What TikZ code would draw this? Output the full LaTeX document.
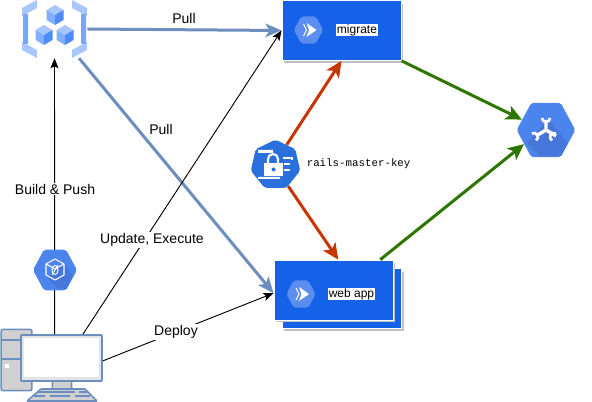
\documentclass[tikz,border=0pt]{standalone}
\usepackage{fontspec}
\setmainfont{Liberation Sans}
\setmonofont{Liberation Mono}
\usetikzlibrary{arrows.meta, shapes.geometric}
\definecolor{pullblue}{HTML}{6C8EBF}
\definecolor{keyred}{HTML}{C73500}
\definecolor{linkgreen}{HTML}{2D7600}
\definecolor{runblue}{HTML}{1561E8}
\definecolor{runhex}{HTML}{5C8DF0}
\definecolor{gcpblue}{HTML}{4C84EE}
\definecolor{gcpdark}{HTML}{4676DA}
\definecolor{keyblue}{HTML}{2A70DD}
\definecolor{cubetop}{HTML}{A8C7FF}
\definecolor{cubeleft}{HTML}{82AEFF}
\definecolor{cuberight}{HTML}{4D8BF8}
\definecolor{cubebar}{HTML}{76A7FA}
\definecolor{pcgray}{HTML}{D0D0D0}
\definecolor{pcscreen}{HTML}{E4E4E4}
\definecolor{boxshadow}{HTML}{C0C0C0}
\tikzset{
  label/.style={font=\fontsize{10.5}{12}\selectfont, text=black, inner sep=1pt},
  whitelabel/.style={label, fill=white},
  boxlabel/.style={font=\fontsize{9}{11}\selectfont, text=black, fill=white, inner sep=0.5pt},
  runbox/.style={fill=runblue, draw=white, line width=0.5pt, minimum width=89.5pt, minimum height=45pt, inner sep=0pt},
  pullline/.style={draw=pullblue, line width=2.25pt, -{Stealth[length=12pt, width=10pt, inset=3pt]}},
  thinline/.style={draw=black, line width=0.7pt, -{Stealth[length=7.5pt, width=6pt, inset=1.5pt]}},
  keyline/.style={draw=keyred, line width=2.25pt, -{Stealth[length=12pt, width=11pt, inset=3pt]}},
  greenline/.style={draw=linkgreen, line width=2.25pt, -{Stealth[length=12pt, width=11pt, inset=3pt]}},
  hexicon/.style={regular polygon, regular polygon sides=6, inner sep=0pt, rounded corners=1.5pt, transform shape, yscale=1.07},
  pcpart/.style={draw=pullblue, line width=1.2pt, fill=pcgray, rounded corners=0.5pt, inner sep=0pt}
}
\begin{document}
\begin{tikzpicture}[x=0.75pt, y=-0.75pt]
  \useasboundingbox (0,0) rectangle (592,402);
  % Registry
  \node[minimum width=48.75pt, minimum height=43.5pt, inner sep=0pt] (registry) at (54.5,29) {};
  \fill[cubetop] (22,8) -- (37,0) -- (37,8) -- (22,16) -- cycle (22,42) -- (37,50) -- (37,58) -- (22,50) -- cycle;
  \fill[cubetop] (87,8) -- (72,0) -- (72,8) -- (87,16) -- cycle (87,42) -- (72,50) -- (72,58) -- (87,50) -- cycle;
  \fill[cubebar] (23,14) rectangle (28,44) (81,14) rectangle (86,44);
  \foreach \cx/\cy in {55/15, 44/35, 65/35} {
    \fill[cubetop] (\cx,\cy) -- ++(-8.5,-5) -- ++(8.5,-5) -- ++(8.5,5) -- cycle;
    \fill[cubeleft] (\cx,\cy) -- ++(-8.5,-5) -- ++(0,10) -- ++(8.5,5) -- cycle;
    \fill[cuberight] (\cx,\cy) -- ++(8.5,-5) -- ++(0,10) -- ++(-8.5,5) -- cycle;
  }
  % Computer
  \node[pcpart, minimum width=23pt, minimum height=46pt, rounded corners=1.5pt] (tower) at (16.5,360) {};
  \draw[pullblue, line width=1.2pt] (1,340) -- (21,340) (1,359) -- (21,359);
  \fill[white] (5,364) rectangle (8.5,367.5);
  \node[pcpart, minimum width=14.5pt, minimum height=7pt] (stand) at (62,385) {};
  \node[pcpart, minimum width=60.75pt, minimum height=34.5pt, fill=pcscreen] (monitor) at (61.5,358) {};
  \node[fill=white, minimum width=56.25pt, minimum height=29.25pt, inner sep=0pt] (screen) at (61.5,357.5) {};
  \draw[pcpart] (27,401) -- (41,389) -- (85,389) -- (97,401) -- cycle;
  \draw[pullblue, line width=1pt] (38,392) -- (75,392) (79,392) -- (87,392) (34,396) -- (45,396) (50,396) -- (70,396) (75,396) -- (90,396);
  % Boxes
  \fill[boxshadow] (284,4) rectangle (403,63);
  \node[runbox] (migrate) at (341.5,30.5) {};
  \fill[boxshadow] (284,272) rectangle (403.5,331);
  \node[runbox] (webback) at (342,298.5) {};
  \fill[boxshadow] (276,263) rectangle (395,322);
  \node[runbox] (web) at (333.5,290) {};
  % Pull, Build, Update, Deploy
  \draw[pullline] (registry.east) -- (migrate.west);
  \draw[pullline] (registry.-50) -- (web.183);
  \draw[thinline] (monitor.106) -- (registry.south);
  \draw[thinline] (monitor.48) -- (migrate.west);
  \draw[thinline] (monitor.-4) -- (web.183);
  % Service icons
  \node[hexicon, fill=runhex, minimum size=22pt] (migrateicon) at (308.5,30) {};
  \node[hexicon, fill=runhex, minimum size=22pt] (webicon) at (301,294) {};
  \foreach \ix/\iy in {308.5/30, 301/294} {
    \draw[white, line width=0.7pt] (\ix-5,\iy-6) -- (\ix-2,\iy) -- (\ix-5,\iy+6);
    \fill[white] (\ix-2,\iy-7) -- (\ix+8,\iy) -- (\ix-2,\iy+7) -- (\ix+0.5,\iy) -- cycle;
  }
  % Key
  \node[regular polygon, regular polygon sides=7, fill=keyblue, minimum size=38pt, inner sep=0pt, rounded corners=1.5pt] (key) at (275.5,165) {};
  \fill[white] (258,150) rectangle (273,153) (258,177) rectangle (280,179);
  \fill[white] (264,163) rectangle (283,176);
  \draw[white, line width=1.6pt] (268,163) -- (268,159) arc[start angle=180, end angle=360, x radius=5, y radius=5] -- (278,163);
  \fill[keyblue] (273.5,169.5) circle[radius=2];
  \draw[white, line width=1.4pt] (283,158) -- (292,158) -- (292,160) (284,164) -- (290,164) (284,170) -- (290,170);
  % Key and database lines
  \draw[keyline] (key.61) -- (migrate.south);
  \draw[keyline] (key.-59) -- (web.81);
  \node[hexicon, fill=gcpblue, minimum size=44pt] (hub) at (546,130) {};
  \fill[gcpdark] (548,119) -- (568,143) -- (561,156) -- (540,156) -- (527,144) -- cycle;
  \draw[white, line width=2.6pt] (546,132) -- (546,120) (546,130) -- (536,136) (546,130) -- (556,136);
  \draw[white, line width=2pt] (550,118) arc[start angle=0, end angle=180, radius=4];
  \draw[white, line width=2pt] (532,133.5) arc[start angle=-120, end angle=60, radius=4];
  \draw[white, line width=2pt] (556,133.5) arc[start angle=300, end angle=120, radius=4];
  \draw[greenline] (migrate.south east) -- (hub.158);
  \draw[greenline] (web.33) -- (hub.211);
  % Builder
  \node[hexicon, fill=gcpblue, minimum size=33pt] (builder) at (55,270) {};
  \fill[gcpdark] (64,264) -- (73,276) -- (66,289) -- (58,289) -- (47,277) -- cycle;
  \draw[white, line width=0.8pt, line join=round] (55,259) -- (64,264) -- (64,275) -- (55,280) -- (46,275) -- (46,264) -- cycle (46,264) -- (55,269) -- (64,264);
  \draw[white, line width=0.7pt] (55,270) ellipse[x radius=3, y radius=4.5] (52,275) -- (58,265);
  % Labels
  \node[label] (pullone) at (184,19) {Pull};
  \node[label] (pulltwo) at (161,129) {Pull};
  \node[whitelabel] (buildlabel) at (55,189) {Build \& Push};
  \node[whitelabel] (updatelabel) at (152,240) {Update, Execute};
  \node[whitelabel] (deploylabel) at (176,332) {Deploy};
  \node[boxlabel] (migratelabel) at (357,30) {migrate};
  \node[boxlabel] (weblabel) at (351.5,294) {web app};
  \node[anchor=west, inner sep=0pt, font=\ttfamily\fontsize{8.1}{10}\selectfont] (keylabel) at (306.5,164) {rails-master-key};
\end{tikzpicture}
\end{document}
